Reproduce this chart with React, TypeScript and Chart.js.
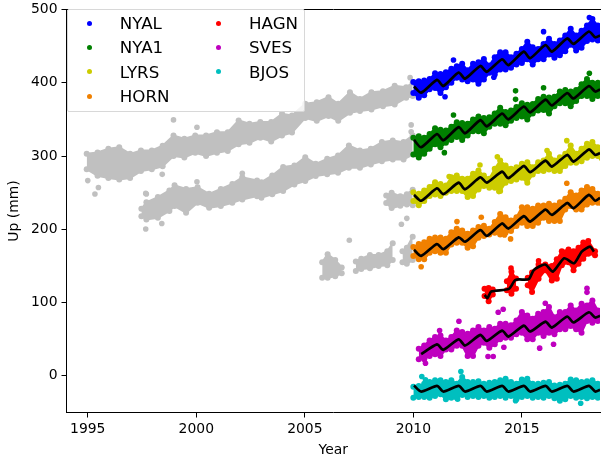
import { useEffect, useRef } from "react";
import Chart from "chart.js/auto";

const tickYears = [1995, 2000, 2005, 2010, 2015];
const tickUp = [0, 100, 200, 300, 400, 500];

// quarter-year steps for the GPS clouds after 2010
const years = [
  2010, 2010.25, 2010.5, 2010.75, 2011, 2011.25, 2011.5, 2011.75, 2012, 2012.25, 2012.5, 2012.75,
  2013, 2013.25, 2013.5, 2013.75, 2014, 2014.25, 2014.5, 2014.75, 2015, 2015.25, 2015.5, 2015.75,
  2016, 2016.25, 2016.5, 2016.75, 2017, 2017.25, 2017.5, 2017.75, 2018, 2018.25, 2018.5, 2018.75,
];
const svesYears = years.slice(1);

// upper and lower edge of each cloud, mm
const nyalHigh = [401, 402, 403, 405, 413, 412, 414.5, 419, 422.6, 426, 417, 426, 428, 432.6, 423.5, 435, 441.7, 441.7, 435, 439.5, 446, 456, 448.6, 446, 453, 460, 453, 457.7, 464.5, 473.6, 464.5, 471, 478, 487, 478, 473.6];
const nyalLow = [386, 379.5, 383, 391, 393, 386, 394, 400, 407, 404.5, 402, 404.5, 398.6, 404.5, 413.6, 411.4, 418, 418, 420.5, 425, 427, 432, 425, 432, 432, 438.6, 434, 437.7, 443, 452, 444, 447.7, 457, 459, 457.7, 454.6];
const nya1High = [325, 327, 325, 330, 338, 336, 335, 340, 346, 345, 344, 350, 354, 352, 353, 358, 366, 360, 362, 367, 372, 370, 371, 378, 381, 380, 381, 388, 390, 388, 390, 398, 405, 400, 400, 402];
const nya1Low = [302, 298, 303, 310, 316, 312, 318, 322, 326, 322, 328, 334, 334, 331, 340, 344, 344, 342, 348, 352, 354, 350, 358, 362, 363, 358, 368, 372, 372, 368, 375, 382, 382, 378, 382, 384];
const lyrsHigh = [250.7, 248.5, 253, 257.6, 264.4, 262, 259.8, 271.2, 273.5, 268.9, 268.9, 275.8, 280.3, 273.5, 268.9, 282.6, 294, 287, 282.6, 284.8, 289.4, 291.7, 284.8, 291.7, 294, 303, 294, 298.5, 303, 314.4, 303, 309.9, 316.7, 319, 312, 307.6];
const lyrsLow = [238.5, 233, 238.5, 245.4, 247.6, 245.4, 249.9, 252.2, 252.2, 252.2, 244, 245.4, 254.5, 259, 256.7, 256.7, 252.2, 263.6, 265.8, 268, 270.4, 263.6, 274.9, 279.5, 279.5, 281.8, 279.5, 279.5, 286.3, 290.8, 290.8, 293, 297.7, 300, 300, 288.6];
const hornHigh = [175.7, 180, 182.5, 187, 189, 189, 187, 196, 200.7, 198.4, 194, 198.4, 203, 205, 200.7, 210, 221, 216.6, 212, 216.6, 230, 230, 228, 232.5, 232.5, 235, 232.5, 237, 241.6, 250.7, 246, 253, 257.6, 255, 248.5, 244];
const hornLow = [163.5, 159, 159, 168, 170, 168, 168, 179.4, 181.7, 181.7, 175, 177, 188.5, 190.8, 193, 195.3, 193, 195.3, 197.6, 204.4, 209, 204.4, 204.4, 209, 215.8, 211.3, 211.3, 211.3, 227, 231.7, 227, 227, 234, 236.3, 236.3, 229.4];
const svesHigh = [37, 41.6, 48.4, 53, 55, 48.4, 53, 62, 60, 57.5, 62, 66.6, 62, 66.6, 64.3, 71, 71, 69, 75.7, 87, 82.5, 78, 84.8, 87, 94, 80, 87, 87, 96, 89.3, 98.4, 96, 103, 89.3, 87];
const svesLow = [22.6, 22.6, 27, 29.4, 27, 36, 36, 41, 41, 27, 27, 41, 45.3, 38.5, 43, 50, 52, 52, 56.7, 59, 50, 50, 59, 54.4, 59, 56.7, 63.5, 63.5, 68, 63.5, 59, 75, 72.6, 75, 77];
const bjosHigh = [-15, -14, -10.7, -8.4, -6, -6, -8.4, -6, -10.7, -1.6, -8.4, -8.4, -7.5, -10.7, -9.3, -8.4, -6, -4, -8.4, -10.7, -5, -4, -10.7, -10.7, -9.3, -8.4, -13, -12, -10.7, -5, -6, -8.4, -7.5, -6, -10.7, -12];
const bjosLow = [-29.7, -28.8, -28.8, -29.7, -27.4, -25, -32, -29.7, -29.7, -26, -28.8, -27.4, -28.8, -27.4, -29.7, -28.8, -27.4, -29.7, -27.4, -32, -28.8, -27.4, -29.7, -28.8, -29.7, -27.4, -30.6, -34, -32, -27.4, -29.7, -28.8, -30.6, -28.8, -29.7, -27.4];

// HAGN comes in three campaigns
const hagnYears1 = [2013.28, 2013.47, 2013.66];
const hagnHigh1 = [119, 120, 118];
const hagnLow1 = [109, 102, 111];
const hagnYears2 = [2014.31, 2014.52, 2014.73];
const hagnHigh2 = [129, 142, 133];
const hagnLow2 = [117, 112, 119];
const hagnYears3 = [2015.27, 2015.47, 2015.77, 2016.08, 2016.38, 2016.61, 2016.84, 2017.15, 2017.38, 2017.61, 2017.83, 2018.06, 2018.37];
const hagnHigh3 = [134, 141, 152, 152, 150, 159, 170, 172.5, 170, 175, 182, 184, 170];
const hagnLow3 = [123.5, 114.5, 132.5, 144, 130, 132.5, 151, 155, 144, 153, 160, 166.5, 164.5];

// older data in grey
const grey1Years = [1994.95, 1995.45, 1995.95, 1996.45, 1996.95, 1997.45, 1997.95, 1998.45, 1998.95, 1999.45, 1999.95, 2000.45, 2000.95, 2001.45, 2001.95, 2002.45, 2002.95, 2003.45, 2003.95, 2004.41, 2005.02, 2005.55, 2006.09, 2006.54, 2007.08, 2007.54, 2008.07, 2008.6, 2009.14, 2009.67, 2009.97];
const grey1High = [303, 305, 310, 312, 303, 307.6, 307.6, 314, 328, 323.5, 328, 328, 332.6, 332.6, 348.5, 344, 346.3, 346.3, 357.6, 355.4, 371.3, 373.5, 380.4, 371.3, 387, 378, 387, 388.5, 396, 394, 400];
const grey1Low = [282, 273, 270, 268, 270, 279.5, 282, 286, 300, 298, 304.5, 300, 304.5, 307, 316, 318, 325, 320, 328, 332, 352, 348, 354.5, 348, 359, 361.4, 363.6, 368, 370.4, 379.5, 382];
const grey2Years = [1997.47, 1997.7, 1998.23, 1998.76, 1999, 1999.53, 2000.06, 2000.59, 2001.13, 2001.66, 2002.12, 2002.8, 2003, 2003.5, 2004, 2004.52, 2005.02, 2005.5, 2006.03, 2006.53, 2007.03, 2007.54, 2008.04, 2008.55, 2009.05, 2009.55, 2009.97];
const grey2High = [228, 237, 244, 253, 260, 255, 257.5, 248.4, 255, 262, 271, 266.6, 264.4, 273.5, 285, 287, 298.5, 289.4, 296.2, 300.8, 314.4, 307.6, 310, 319, 321.3, 319, 328];
const grey2Low = [218, 213.5, 215.8, 225, 231.7, 222.6, 236.2, 229.4, 231.7, 236.2, 240.8, 245.3, 243, 247.7, 252.2, 261.3, 266, 272.7, 275, 277.2, 284, 284, 288.6, 293, 295.4, 295.4, 302];
const grey3Years = [2008.75, 2009, 2009.4, 2009.7, 2009.97];
const grey3High = [246, 250, 245, 248, 254];
const grey3Low = [236, 229, 232, 234, 233];
const grey4aYears = [2005.8, 2006.05, 2006.4, 2006.7];
const grey4aHigh = [155, 166, 158, 148];
const grey4aLow = [134, 134, 136, 140];
const grey4bYears = [2007.35, 2007.6, 2008, 2008.4, 2008.8, 2009.05];
const grey4bHigh = [156, 160, 165, 165, 170, 181];
const grey4bLow = [143, 146, 147, 150, 151, 158];
const grey4cYears = [2009.5, 2009.7, 2009.97];
const grey4cHigh = [170, 175, 190];
const grey4cLow = [155, 153, 158];

const greyDotYears = [1998.95, 2000.03, 1995.49, 1995.33, 1995, 1998.43, 1997.7, 2000.03, 1997.67, 1998.41, 1997.67, 2002.12, 2009.7, 2009.9, 2009.9, 2007.05, 2009.45, 2009.85];
const greyDotUp = [349.3, 339.3, 257, 248.3, 266.5, 275, 248.3, 265, 200.5, 208, 249, 276.5, 215, 342.5, 333, 185, 207, 407];

// black fit curves: start, trough, then peak / trough pairs each year
const fitYears = [2010.03, 2010.36, 2011.09, 2011.38, 2012.09, 2012.38, 2013.09, 2013.38, 2014.09, 2014.38, 2015.09, 2015.38, 2016.09, 2016.38, 2017.09, 2017.38, 2018.09, 2018.38, 2018.6];
const nyalFit = [395, 386.5, 404, 395.5, 414, 405.5, 423, 415, 432, 424, 442.5, 433.5, 451.5, 442.5, 460.5, 453, 470, 462, 464.5];
const nya1Fit = [322, 312, 330, 321.5, 339.5, 331, 349, 340.5, 358, 350, 367.5, 359.5, 377, 369, 386, 378.5, 395.5, 388, 391];
const lyrsFit = [247, 239, 256, 248, 263.7, 254.6, 271, 263.7, 278.7, 269.7, 286.5, 278, 293.7, 285.6, 301.5, 292.4, 309, 301.5, 304];
const hornFit = [172, 163.7, 180, 172.8, 189, 183, 199, 191, 208, 201, 218, 210.5, 227, 219.6, 236, 228.7, 247, 239, 243];
const svesFit = [29.6, 29.6, 43, 35.5, 50, 41.4, 55.9, 47.7, 61.8, 53.6, 68.6, 60.5, 74, 65.9, 81, 72.8, 86.8, 79.6, 82];
const bjosFit = [-13.2, -21.4, -13.7, -21.4, -13.7, -21.4, -13.7, -21.4, -13.7, -21.4, -13.7, -21.4, -13.7, -21.4, -13.7, -21.4, -13.7, -21.4, -19];
const hagnFitYears = [2013.29, 2013.41, 2013.59, 2014.4, 2014.71, 2015.32, 2015.55, 2016.07, 2016.43, 2016.95, 2017.41, 2017.76, 2018.14, 2018.32];
const hagnFit = [110.5, 106, 115, 118.7, 131, 132, 144.6, 152, 142.3, 160.5, 153.7, 169.6, 176.4, 169.6];

// stray points, read by hand
const nyalDotYears = [2011.85, 2011.46, 2016, 2013.71, 2018.11];
const nyalDotUp = [431, 381, 469.8, 407.5, 489];
const nya1DotYears = [2014.71, 2014.71, 2016, 2011.85, 2018.11, 2011.43];
const nya1DotUp = [389, 377.4, 393.3, 356, 413, 304.6];
const lyrsDotYears = [2013.07, 2013.87, 2017.07, 2016.16, 2013.94, 2011.65];
const lyrsDotUp = [287.8, 299, 321, 307.4, 251.5, 272];
const hornDotYears = [2012.01, 2013.13, 2017.07, 2014.48, 2014.2, 2010.36];
const hornDotUp = [210.5, 216.4, 262.8, 186.9, 192.3, 149];
const hagnDotYears = [2014.5, 2015.77];
const hagnDotUp = [147, 157];
const svesDotYears = [2013.91, 2014.14, 2012.1, 2018, 2018, 2013.44, 2013.68, 2015.82, 2014.17, 2010.56, 2011.21, 2016.46, 2016.08];
const svesDotUp = [86.9, 91, 74.6, 119.6, 114, 26.4, 26.4, 37.8, 39, 17.3, 62, 43.2, 99.2];
const bjosDotYears = [2012.19, 2010.39, 2010.56, 2017.71, 2014.71, 2012.04];
const bjosDotUp = [6, -0.9, -5.4, -37.3, -34, -31.8];

const legendLeft = ["NYAL", "NYA1", "LYRS", "HORN"];
const legendRight = ["HAGN", "SVES", "BJOS"];
const colors: Record<string, string> = {
  NYAL: "#0000ff",
  NYA1: "#008000",
  LYRS: "#cccc00",
  HORN: "#f08000",
  HAGN: "#ff0000",
  SVES: "#bf00bf",
  BJOS: "#00bfbf",
};
const grey = "#c0c0c0";

const pts = (xs: number[], ys: number[]) => xs.map((x, i) => ({ x, y: ys[i] }));

function band(xs: number[], high: number[], low: number[], color: string) {
  const common = {
    borderColor: color,
    backgroundColor: color,
    borderWidth: 2,
    pointRadius: 3,
    pointBorderWidth: 0,
    pointBackgroundColor: color,
  };
  return [
    { ...common, data: pts(xs, high), fill: "+1" },
    { ...common, data: pts(xs, low), fill: false },
  ];
}

function dots(xs: number[], ys: number[], color: string) {
  return {
    data: pts(xs, ys),
    showLine: false,
    pointRadius: 2.8,
    pointBorderWidth: 0,
    pointBackgroundColor: color,
  };
}

function fit(xs: number[], ys: number[]) {
  return {
    data: pts(xs, ys),
    borderColor: "#000000",
    borderWidth: 2.7,
    pointRadius: 0,
    tension: 0.22,
  };
}

function LegendEntry({ name, x, y }: { name: string; x: number; y: number }) {
  return (
    <>
      <span
        style={{
          position: "absolute",
          left: x - 67.5 - 2.5,
          top: y - 10 - 2.5,
          width: 5,
          height: 5,
          borderRadius: "50%",
          background: colors[name],
        }}
      />
      <span style={{ position: "absolute", left: x - 67.5 + 30.5, top: y - 10 - 10, lineHeight: "20px" }}>{name}</span>
    </>
  );
}

export default function App() {
  const ref = useRef<HTMLCanvasElement>(null);

  useEffect(() => {
    if (!ref.current) return;
    const font = { family: "DejaVu Sans", size: 13.9 };
    const chart = new Chart(ref.current, {
      type: "line",
      data: {
        datasets: [
          fit(fitYears, nyalFit),
          fit(fitYears, nya1Fit),
          fit(fitYears, lyrsFit),
          fit(fitYears, hornFit),
          fit(hagnFitYears, hagnFit),
          fit(fitYears.slice(1), svesFit.slice(1)),
          fit(fitYears, bjosFit),
          dots(nyalDotYears, nyalDotUp, colors.NYAL),
          dots(nya1DotYears, nya1DotUp, colors.NYA1),
          dots(lyrsDotYears, lyrsDotUp, colors.LYRS),
          dots(hornDotYears, hornDotUp, colors.HORN),
          dots(hagnDotYears, hagnDotUp, colors.HAGN),
          dots(svesDotYears, svesDotUp, colors.SVES),
          dots(bjosDotYears, bjosDotUp, colors.BJOS),
          ...band(years, nyalHigh, nyalLow, colors.NYAL),
          ...band(years, nya1High, nya1Low, colors.NYA1),
          ...band(years, lyrsHigh, lyrsLow, colors.LYRS),
          ...band(years, hornHigh, hornLow, colors.HORN),
          ...band(hagnYears1, hagnHigh1, hagnLow1, colors.HAGN),
          ...band(hagnYears2, hagnHigh2, hagnLow2, colors.HAGN),
          ...band(hagnYears3, hagnHigh3, hagnLow3, colors.HAGN),
          ...band(svesYears, svesHigh, svesLow, colors.SVES),
          ...band(years, bjosHigh, bjosLow, colors.BJOS),
          dots(greyDotYears, greyDotUp, grey),
          ...band(grey1Years, grey1High, grey1Low, grey),
          ...band(grey2Years, grey2High, grey2Low, grey),
          ...band(grey3Years, grey3High, grey3Low, grey),
          ...band(grey4aYears, grey4aHigh, grey4aLow, grey),
          ...band(grey4bYears, grey4bHigh, grey4bLow, grey),
          ...band(grey4cYears, grey4cHigh, grey4cLow, grey),
        ] as any,
      },
      options: {
        animation: false,
        responsive: false,
        layout: { padding: { top: 9.5, right: 0, left: 0, bottom: 0 } },
        plugins: { legend: { display: false }, tooltip: { enabled: false } },
        scales: {
          x: {
            type: "linear",
            min: 1994.02,
            max: 2018.6,
            afterBuildTicks: (s: any) => {
              s.ticks = tickYears.map((value) => ({ value }));
            },
            afterFit: (s: any) => {
              s.height = 46.5;
              s.paddingLeft = 0;
              s.paddingRight = 0;
            },
            border: { color: "#000", width: 1 },
            grid: { drawOnChartArea: false, tickLength: 5, tickColor: "#000" },
            ticks: { color: "#000", font, padding: 4, maxRotation: 0, autoSkip: false, callback: (v: any) => String(v) },
            title: { display: true, text: "Year", color: "#000", font, padding: { top: 2, bottom: 0 } },
          },
          top: {
            type: "linear",
            position: "top",
            min: 1994.02,
            max: 2018.6,
            afterFit: (s: any) => {
              s.height = 0;
              s.paddingLeft = 0;
              s.paddingRight = 0;
            },
            border: { color: "#000", width: 1 },
            grid: { drawOnChartArea: false, drawTicks: false },
            ticks: { display: false },
          },
          y: {
            min: -50,
            max: 500,
            afterBuildTicks: (s: any) => {
              s.ticks = tickUp.map((value) => ({ value }));
            },
            afterFit: (s: any) => {
              s.width = 66.5;
              s.paddingTop = 0;
              s.paddingBottom = 0;
            },
            border: { color: "#000", width: 1 },
            grid: { drawOnChartArea: false, tickLength: 5, tickColor: "#000" },
            ticks: { color: "#000", font, padding: 4, autoSkip: false },
            title: { display: true, text: "Up (mm)", color: "#000", font, padding: { top: 6, bottom: 4 } },
          },
        },
      },
    });
    return () => chart.destroy();
  }, []);

  return (
    <div style={{ position: "absolute", left: 0, top: 0, width: 604, height: 459, overflow: "hidden", background: "#fff" }}>
      <canvas ref={ref} width={604} height={459} style={{ display: "block" }}></canvas>
      <div
        style={{
          position: "absolute",
          left: 66.5,
          top: 9,
          width: 238,
          height: 103,
          boxSizing: "border-box",
          background: "rgba(255,255,255,0.8)",
          border: "1px solid #d8d8d8",
          borderRadius: 2,
          fontFamily: "DejaVu Sans",
          fontSize: 16.7,
          color: "#000",
        }}
      >
        {legendLeft.map((name, i) => (
          <LegendEntry key={name} name={name} x={89.3} y={23 + i * 24.4} />
        ))}
        {legendRight.map((name, i) => (
          <LegendEntry key={name} name={name} x={218.5} y={23 + i * 24.4} />
        ))}
      </div>
    </div>
  );
}
